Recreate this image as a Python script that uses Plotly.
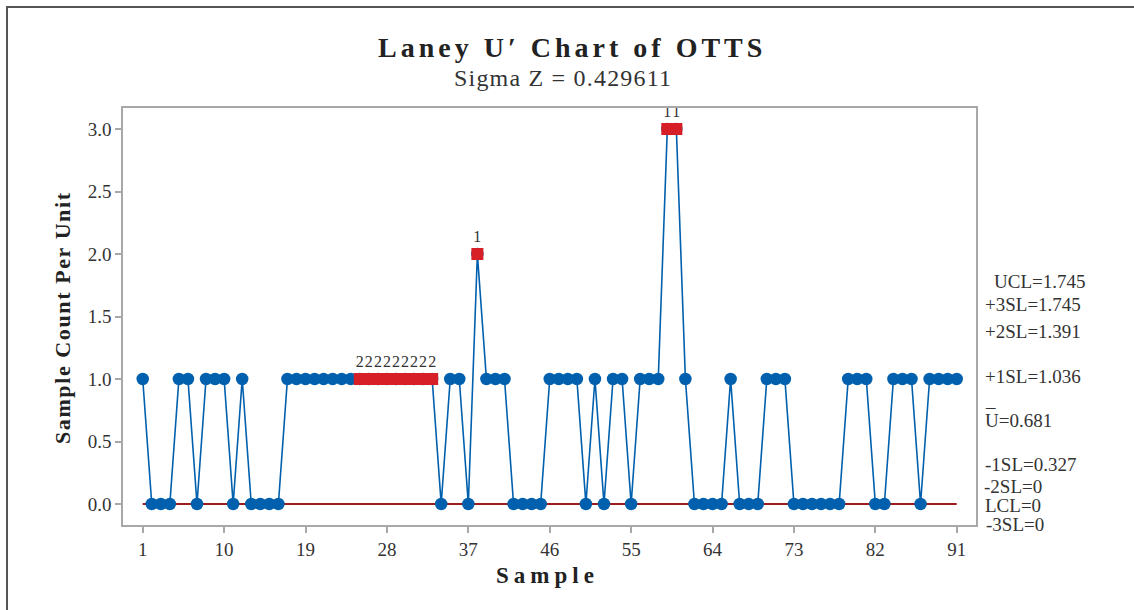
import plotly.graph_objects as go

# ---------------- data ----------------
samples = list(range(1, 92))
u_values = (
    [1] + [0, 0, 0] + [1, 1] + [0] + [1, 1, 1] + [0] + [1] + [0, 0, 0, 0]
    + [1] * 8 + [1] * 9 + [0] + [1, 1] + [0] + [2] + [1, 1, 1] + [0] * 4
    + [1] * 4 + [0] + [1] + [0] + [1, 1] + [0] + [1, 1, 1] + [3, 3] + [1]
    + [0] * 4 + [1] + [0] * 3 + [1] * 3 + [0] * 6 + [1] * 3 + [0] * 2
    + [1] * 3 + [0] + [1] * 4
)
assert len(u_values) == 91

flagged_samples = list(range(25, 34)) + [38, 59, 60]
flag_tests = ["2"] * 9 + ["1", "1", "1"]

x_tick_vals = [1, 10, 19, 28, 37, 46, 55, 64, 73, 82, 91]
y_tick_vals = [0.0, 0.5, 1.0, 1.5, 2.0, 2.5, 3.0]

limit_names = ["UCL", "+3SL", "+2SL", "+1SL", "U", "-1SL", "-2SL", "LCL", "-3SL"]
limit_values = [1.745, 1.745, 1.391, 1.036, 0.681, 0.327, 0, 0, 0]
lcl_value = 0

title_text = "Laney U′ Chart of OTTS"
subtitle_text = "Sigma Z = 0.429611"

# ---------------- layout geometry ----------------
W, H = 1134, 610
L, R, T, B = 123, 976, 108, 525


def xp(px):
    return (px - L) / (R - L)


def yp(py):
    return (B - py) / (B - T)


FONT = "Liberation Serif"
BLUE = "#0060AD"
RED = "#D61F26"
DARKRED = "#9B1C1C"
GRAY = "#A8A8A8"
TXT = "#333333"

fig = go.Figure()

# LCL line
fig.add_trace(go.Scatter(
    x=[samples[0], samples[-1]], y=[lcl_value, lcl_value],
    mode="lines", line=dict(color=DARKRED, width=2), hoverinfo="skip",
    showlegend=False,
))

# main series
fig.add_trace(go.Scatter(
    x=samples, y=u_values, mode="lines+markers",
    line=dict(color=BLUE, width=1.6),
    marker=dict(symbol="circle", size=12.5, color=BLUE),
    showlegend=False,
))

# flagged points
flag_y = [u_values[s - 1] for s in flagged_samples]
fig.add_trace(go.Scatter(
    x=flagged_samples, y=flag_y, mode="markers+text",
    marker=dict(symbol="square", size=12, color=RED),
    text=flag_tests, textposition="top center",
    textfont=dict(family=FONT, size=16, color=TXT),
    showlegend=False,
))

annotations = []

# title / subtitle
annotations.append(dict(
    x=xp(572), y=yp(47), xref="paper", yref="paper", showarrow=False,
    text='<span style="letter-spacing:4px"><b>' + title_text + '</b></span>',
    font=dict(family=FONT, size=28, color="#222222"),
    xanchor="center", yanchor="middle",
))
annotations.append(dict(
    x=xp(563), y=yp(78), xref="paper", yref="paper", showarrow=False,
    text='<span style="letter-spacing:1.2px">' + subtitle_text + '</span>',
    font=dict(family=FONT, size=24, color=TXT),
    xanchor="center", yanchor="middle",
))

# axis titles
annotations.append(dict(
    x=xp(547), y=yp(575), xref="paper", yref="paper", showarrow=False,
    text='<span style="letter-spacing:5px"><b>Sample</b></span>',
    font=dict(family=FONT, size=23, color="#222222"),
    xanchor="center", yanchor="middle",
))
annotations.append(dict(
    x=xp(62), y=yp(318), xref="paper", yref="paper", showarrow=False,
    text='<span style="letter-spacing:1.6px"><b>Sample Count Per Unit</b></span>',
    font=dict(family=FONT, size=22, color="#222222"), textangle=-90,
    xanchor="center", yanchor="middle",
))

# right-hand limit labels (pixel y positions chosen to avoid overlap)
label_py = [281, 304, 331, 376, 420, 464, 486, 505, 524]
label_px = [992, 983, 983, 983, 983, 983, 982, 983, 984]
for name, val, py, px in zip(limit_names, limit_values, label_py, label_px):
    txt = f"{name}={val:g}"
    annotations.append(dict(
        x=xp(px), y=yp(py), xref="paper", yref="paper", showarrow=False,
        text=txt, font=dict(family=FONT, size=19, color=TXT),
        xanchor="left", yanchor="middle",
    ))
# overbar of U
annotations.append(dict(
    x=xp(983), y=yp(400), xref="paper", yref="paper", showarrow=False,
    text="_", font=dict(family=FONT, size=19, color=TXT),
    xanchor="left", yanchor="middle",
))

shapes = [
    dict(type="line", xref="paper", yref="paper", x0=xp(7), x1=xp(7),
         y0=yp(7), y1=yp(620), line=dict(color="#555555", width=2)),
    dict(type="line", xref="paper", yref="paper", x0=xp(6), x1=xp(1140),
         y0=yp(7), y1=yp(7), line=dict(color="#555555", width=2)),
]

fig.update_layout(
    width=W, height=H,
    margin=dict(l=L, r=W - R, t=T, b=H - B, pad=0),
    paper_bgcolor="white", plot_bgcolor="white",
    annotations=annotations, shapes=shapes,
    xaxis=dict(
        range=[-1.18, 93.13], tickmode="array", tickvals=x_tick_vals,
        ticktext=[str(v) for v in x_tick_vals],
        showgrid=False, zeroline=False, showline=True, mirror=True,
        linecolor=GRAY, linewidth=1.5, ticks="outside", ticklen=6,
        tickcolor=GRAY, tickwidth=1.5,
        tickfont=dict(family=FONT, size=19, color=TXT),
    ),
    yaxis=dict(
        range=[-0.168, 3.168], tickmode="array", tickvals=y_tick_vals,
        ticktext=[f"{v:.1f}" for v in y_tick_vals],
        showgrid=False, zeroline=False, showline=True, mirror=True,
        linecolor=GRAY, linewidth=1.5, ticks="outside", ticklen=6,
        tickcolor=GRAY, tickwidth=1.5,
        tickfont=dict(family=FONT, size=19, color=TXT),
    ),
)

fig.write_html("out.html")
